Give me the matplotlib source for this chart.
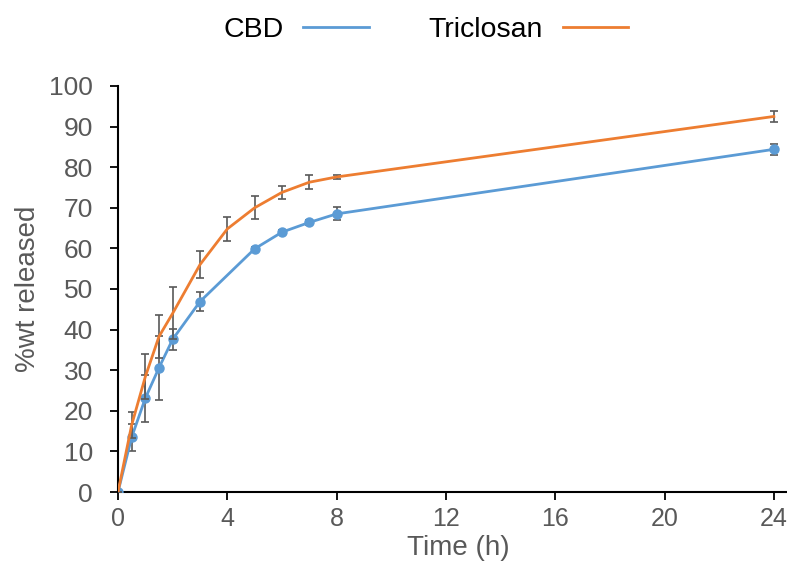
import numpy as np
import matplotlib.pyplot as plt
from matplotlib.lines import Line2D

# ---- data ----
cbd_t = [0, 0.5, 1, 1.5, 2, 3, 5, 6, 7, 8, 24]
cbd_y = [0, 13.5, 23.1, 30.6, 37.6, 46.9, 59.9, 64.0, 66.4, 68.5, 84.4]
cbd_err = [0, 3.3, 5.8, 7.9, 2.6, 2.3, 0.5, 0.5, 0.7, 1.6, 1.3]

tri_t = [0, 0.5, 1, 1.5, 2, 3, 4, 5, 6, 7, 8, 24]
tri_y = [0, 16.5, 28.4, 38.3, 44.0, 56.0, 64.8, 70.0, 73.8, 76.3, 77.6, 92.5]
tri_err = [0, 3.3, 5.6, 5.3, 6.4, 3.4, 3.0, 2.8, 1.6, 1.7, 0.4, 1.3]

x_ticks = [0, 4, 8, 12, 16, 20, 24]
y_ticks = list(range(0, 101, 10))

blue = '#5B9BD5'
orange = '#ED7D31'
err_col = '#595959'
txt_col = '#595959'

plt.rcParams['font.family'] = ['Liberation Sans', 'DejaVu Sans']

fig = plt.figure(figsize=(7.87, 5.62), dpi=100)
ax = fig.add_axes([118 / 787, 1 - 492 / 562, 1 - 118 / 787, (492 - 86) / 562])

ax.errorbar(cbd_t, cbd_y, yerr=cbd_err, color=blue, lw=2, marker='o', ms=6.5,
            ecolor=err_col, elinewidth=1.2, capsize=3, capthick=1.2, zorder=3)
ax.errorbar(tri_t, tri_y, yerr=tri_err, color=orange, lw=2,
            ecolor=err_col, elinewidth=1.2, capsize=3, capthick=1.2, zorder=4)

ax.set_xlim(0, 24.48)
ax.set_ylim(0, 100)
ax.set_xticks(x_ticks)
ax.set_yticks(y_ticks)

for s in ['top', 'right']:
    ax.spines[s].set_visible(False)
for s in ['left', 'bottom']:
    ax.spines[s].set_linewidth(1.5)
    ax.spines[s].set_color('black')

ax.tick_params(axis='both', direction='out', length=6, width=1.3, color='black',
               labelcolor=txt_col)
ax.tick_params(axis='y', pad=12, labelsize=19)
ax.tick_params(axis='x', pad=5, labelsize=18)

ax.set_ylabel('%wt released', fontsize=20, color=txt_col)
ax.yaxis.set_label_coords(-0.115, 0.5)
ax.set_xlabel('Time (h)', fontsize=20, color=txt_col, va='center')
ax.xaxis.set_label_coords((458 - 118) / 669, -0.138)

# legend above the plot, text before the line
handles = [Line2D([], [], color=blue, lw=2), Line2D([], [], color=orange, lw=2)]
fig.legend(handles, ['CBD', 'Triclosan'], loc='center', bbox_to_anchor=(0.541, 0.947),
           ncol=2, frameon=False, markerfirst=False, fontsize=20.5,
           handlelength=2.3, handletextpad=0.7, columnspacing=2.1)

plt.savefig('out.png', dpi=100)
